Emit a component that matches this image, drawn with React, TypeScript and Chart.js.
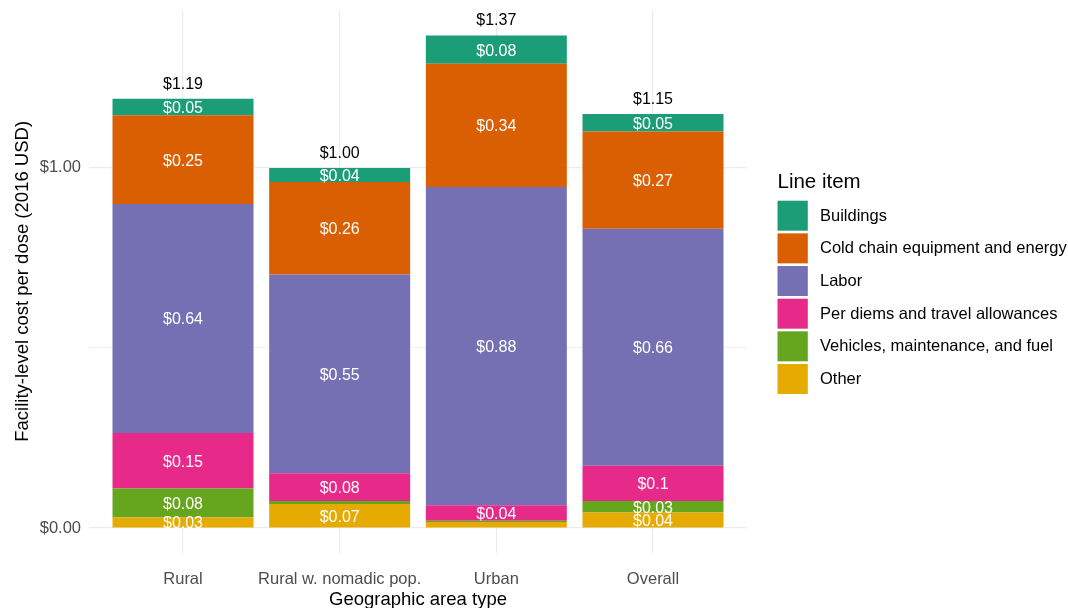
import React, { useEffect, useRef } from "react";
import { Chart, registerables } from "chart.js";

Chart.register(...registerables);

const categories = ["Rural", "Rural w. nomadic pop.", "Urban", "Overall"];

// stacked bottom to top
const other = [0.029, 0.067, 0.017, 0.043];
const vehicles = [0.081, 0.008, 0.003, 0.032];
const perDiems = [0.154, 0.077, 0.043, 0.098];
const labor = [0.636, 0.552, 0.884, 0.658];
const coldChain = [0.246, 0.257, 0.342, 0.27];
const buildings = [0.046, 0.039, 0.079, 0.049];

const seriesNames = [
  "Other",
  "Vehicles, maintenance, and fuel",
  "Per diems and travel allowances",
  "Labor",
  "Cold chain equipment and energy",
  "Buildings",
];
const seriesValues = [other, vehicles, perDiems, labor, coldChain, buildings];
const seriesColors = ["#E6AB02", "#66A61E", "#E7298A", "#7570B3", "#D95F02", "#1B9E77"];

const yTickValues = [0, 0.5, 1.0];
const yTickLabels = ["$0.00", "", "$1.00"];

const FONT = "'Liberation Sans', Arial, Helvetica, sans-serif";

const W = 1068;
const H = 608;
const PLOT_LEFT = 89;
const PLOT_RIGHT = 747;
const PLOT_TOP = 10;
const PLOT_BOTTOM = 552.7;

const labelPlugin = {
  id: "segmentLabels",
  afterDatasetsDraw(chart: any) {
    const ctx = chart.ctx;
    ctx.save();
    ctx.textAlign = "center";
    ctx.textBaseline = "middle";
    ctx.font = `16px ${FONT}`;
    ctx.fillStyle = "#FFFFFF";
    chart.data.datasets.forEach((_ds: any, di: number) => {
      const meta = chart.getDatasetMeta(di);
      meta.data.forEach((el: any, i: number) => {
        const v = seriesValues[di][i];
        if (v < 0.02) return;
        const p = el.getProps(["x", "y", "base"], true);
        ctx.fillText("$" + String(Math.round(v * 100) / 100), p.x, (p.y + p.base) / 2 + 1.5);
      });
    });
    const lastMeta = chart.getDatasetMeta(chart.data.datasets.length - 1);
    ctx.fillStyle = "#000000";
    lastMeta.data.forEach((el: any, i: number) => {
      let total = 0;
      seriesValues.forEach((s) => (total += s[i]));
      const p = el.getProps(["x", "y"], true);
      ctx.fillText("$" + total.toFixed(2), p.x, p.y - 14.5);
    });
    ctx.restore();
  },
};

const legendPlugin = {
  id: "sideLegend",
  afterDraw(chart: any) {
    const ctx = chart.ctx;
    ctx.save();
    ctx.textAlign = "left";
    ctx.textBaseline = "middle";
    ctx.fillStyle = "#000000";
    ctx.font = `20.5px ${FONT}`;
    ctx.fillText("Line item", 777.5, 182);
    ctx.font = `16.5px ${FONT}`;
    const n = seriesNames.length;
    for (let k = 0; k < n; k++) {
      const di = n - 1 - k;
      const top = 200.7 + k * 32.66;
      ctx.fillStyle = seriesColors[di];
      ctx.fillRect(777.5, top, 30.3, 30);
      ctx.fillStyle = "#000000";
      ctx.fillText(seriesNames[di], 820, top + 15.5);
    }
    ctx.restore();
  },
};

export default function App() {
  const canvasRef = useRef<HTMLCanvasElement | null>(null);

  useEffect(() => {
    document.body.style.margin = "0";
    const canvas = canvasRef.current;
    if (!canvas) return;
    const chart = new Chart(canvas, {
      type: "bar",
      data: {
        datasets: seriesNames.map((name, di) => ({
          label: name,
          data: seriesValues[di].map((v, i) => ({ x: i + 1, y: v })),
          backgroundColor: seriesColors[di],
          borderWidth: 0,
          barPercentage: 0.9,
          categoryPercentage: 1.0,
        })),
      },
      options: {
        responsive: false,
        animation: false,
        maintainAspectRatio: false,
        layout: {
          padding: { left: 0, right: W - PLOT_RIGHT, top: PLOT_TOP, bottom: 0 },
        },
        plugins: {
          legend: { display: false },
          tooltip: { enabled: false },
          title: { display: false },
        },
        scales: {
          x: {
            type: "linear",
            stacked: true,
            min: 0.4,
            max: 4.6,
            offset: false,
            afterBuildTicks: (scale: any) => {
              scale.ticks = categories.map((_c, i) => ({ value: i + 1 }));
            },
            afterFit: (scale: any) => {
              scale.height = H - PLOT_BOTTOM;
              scale.paddingLeft = 0;
              scale.paddingRight = 0;
            },
            grid: {
              color: "#EBEBEB",
              lineWidth: 1.2,
              drawTicks: false,
              offset: false,
            },
            border: { display: false },
            ticks: {
              color: "#4D4D4D",
              font: { family: FONT, size: 16.5 },
              padding: 17,
              autoSkip: false,
              maxRotation: 0,
              callback: (value: any) => categories[Math.round(Number(value)) - 1] ?? "",
            },
            title: {
              display: true,
              text: "Geographic area type",
              color: "#000000",
              font: { family: FONT, size: 18.5, lineHeight: 1.0 },
              padding: { top: 0, bottom: -1 },
            },
          },
          y: {
            type: "linear",
            stacked: true,
            min: -0.0685,
            max: 1.4385,
            afterBuildTicks: (scale: any) => {
              scale.ticks = yTickValues.map((v) => ({ value: v }));
            },
            afterFit: (scale: any) => {
              scale.width = PLOT_LEFT;
              scale.paddingTop = 0;
              scale.paddingBottom = 0;
            },
            grid: {
              color: "#EBEBEB",
              lineWidth: (c: any) => (c.tick && c.tick.value === 0.5 ? 0.7 : 1.2),
              drawTicks: false,
            },
            border: { display: false },
            ticks: {
              color: "#4D4D4D",
              font: { family: FONT, size: 16.5 },
              padding: 8,
              callback: (value: any) => {
                const idx = yTickValues.findIndex((t) => Math.abs(t - Number(value)) < 1e-9);
                return idx >= 0 ? yTickLabels[idx] : "";
              },
            },
            title: {
              display: true,
              text: "Facility-level cost per dose (2016 USD)",
              color: "#000000",
              font: { family: FONT, size: 18.5, lineHeight: 1.0 },
              padding: { top: 14, bottom: 0 },
            },
          },
        },
      },
      plugins: [labelPlugin, legendPlugin],
    } as any);
    return () => chart.destroy();
  }, []);

  return (
    <div style={{ width: W, height: H, background: "#FFFFFF" }}>
      <canvas ref={canvasRef} width={W} height={H} style={{ display: "block", width: W, height: H }} />
    </div>
  );
}
